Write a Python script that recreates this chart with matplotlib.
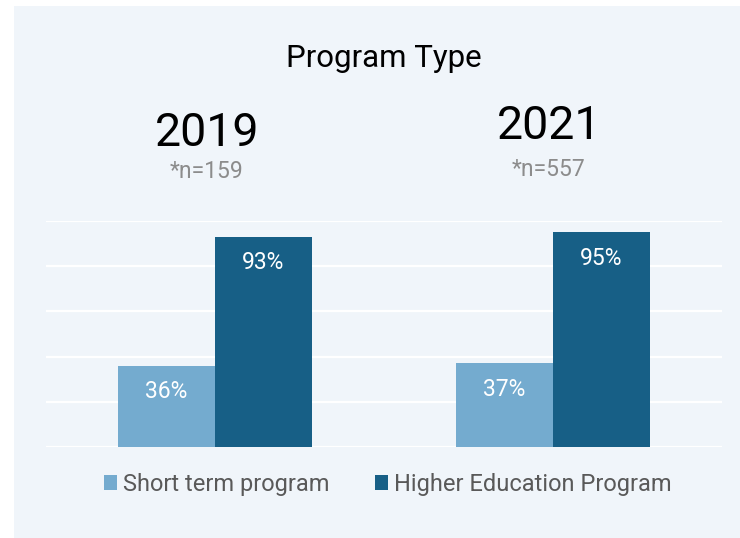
import matplotlib
matplotlib.use('Agg')
import matplotlib.pyplot as plt
import numpy as np
from matplotlib.patches import Rectangle

plt.rcParams['font.family'] = ['Roboto', 'DejaVu Sans']

#----data----
years = ['2019', '2021']
sample_sizes = ['*n=159', '*n=557']
short_term = [36, 37]
higher_ed = [93, 95]
series_names = ['Short term program', 'Higher Education Program']

light_blue = '#74abcf'
dark_blue = '#175f86'
panel_bg = '#f0f5fa'

W, H = 740, 538
fig = plt.figure(figsize=(W / 100, H / 100), dpi=100)
fig.patch.set_facecolor('white')

# light panel behind everything
fig.patches.append(Rectangle((14 / W, 0), 1 - 14 / W, 1 - 6 / H,
                             transform=fig.transFigure, facecolor=panel_bg,
                             edgecolor='none', zorder=-5))

ax = fig.add_axes([46 / W, 1 - 447 / H, (722 - 46) / W, (447 - 221) / H])
ax.set_facecolor('none')
ax.set_zorder(2)

x = np.arange(len(years))
w = 0.287
b1 = ax.bar(x - w / 2, short_term, w, color=light_blue, label=series_names[0], zorder=3)
b2 = ax.bar(x + w / 2, higher_ed, w, color=dark_blue, label=series_names[1], zorder=3)

# value labels inside the top of each bar
for bars, vals in [(b1, short_term), (b2, higher_ed)]:
    for rect, v in zip(bars, vals):
        ax.annotate('%d%%' % v, (rect.get_x() + rect.get_width() / 2, v),
                    xytext=(0, -26), textcoords='offset pixels',
                    ha='center', va='center', color='white', fontsize=16.5, zorder=4)

ax.set_xlim(-0.5, 1.5)
ax.set_ylim(0, 100)
ax.set_yticks([0, 20, 40, 60, 80, 100])
ax.set_xticks([])
ax.tick_params(left=False, labelleft=False)
ax.grid(axis='y', color='white', linewidth=1.6, zorder=1)
ax.set_axisbelow(True)
for s in ax.spines.values():
    s.set_visible(False)

# title and year headers
fig.text(384 / W, 1 - 67 / H, 'Program Type', ha='center', va='baseline',
         fontsize=22.5, color='black')
year_pos = [(207, 146, 178), (549, 139, 176)]
for yr, n, (cx, yb, nb) in zip(years, sample_sizes, year_pos):
    fig.text(cx / W, 1 - yb / H, yr, ha='center', va='baseline', fontsize=33.5, color='black')
    fig.text(cx / W, 1 - nb / H, n, ha='center', va='baseline', fontsize=16.5, color='#8c8c8c')

leg = fig.legend(handles=[b1, b2], loc='center', bbox_to_anchor=(388 / W, 1 - 484 / H),
                 ncol=2, frameon=False, fontsize=17, handlelength=0.55, handleheight=0.6,
                 handletextpad=0.25, columnspacing=1.95, borderaxespad=0, borderpad=0)
for t in leg.get_texts():
    t.set_color('#595959')

fig.savefig('out.png', dpi=100)
